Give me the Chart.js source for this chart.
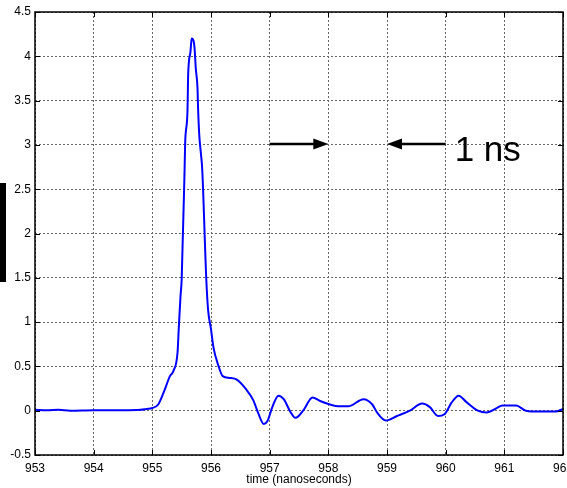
<!DOCTYPE html>
<html>
<head>
<meta charset="utf-8">
<script src="https://cdn.jsdelivr.net/npm/chart.js@4.4.1/dist/chart.umd.min.js"></script>
<style>
  html,body{margin:0;padding:0;background:#fff;}
  #wrap{width:567px;height:488px;position:relative;}
</style>
</head>
<body>
<div id="wrap"><canvas id="pulse"></canvas></div>
<script>
// time axis in nanoseconds, signal in volts
const times = [953.0, 953.2, 953.4, 953.6, 954.0, 954.5, 954.8, 954.9, 955.0, 955.1, 955.19, 955.3, 955.36, 955.43, 955.45, 955.48, 955.5,
  955.55, 955.56, 955.6, 955.61, 955.65, 955.67, 955.7, 955.72, 955.74, 955.77, 955.78, 955.8, 955.83, 955.85, 955.92, 955.95,
  956.0, 956.04, 956.13, 956.2, 956.32, 956.44, 956.6, 956.72, 956.8, 956.9, 956.96, 957.05, 957.15, 957.24, 957.36, 957.44,
  957.58, 957.73, 957.86, 958.03, 958.17, 958.34, 958.6, 958.75, 958.83, 958.98, 959.17, 959.39, 959.6, 959.73, 959.87, 959.98,
  960.1, 960.22, 960.35, 960.55, 960.7, 960.87, 960.97, 961.2, 961.37, 961.6, 961.88, 962.0];
const volts = [0.01, 0.005, 0.01, 0.0, 0.005, 0.005, 0.01, 0.02, 0.03, 0.07, 0.2, 0.39, 0.45, 0.66, 0.92, 1.29, 1.48,
  2.73, 3.03, 3.4, 3.78, 4.05, 4.2, 4.18, 4.09, 3.87, 3.64, 3.41, 3.11, 2.89, 2.73, 1.48, 1.14,
  0.92, 0.72, 0.5, 0.39, 0.37, 0.35, 0.24, 0.12, -0.02, -0.15, -0.12, 0.05, 0.17, 0.13, -0.02, -0.08,
  0.01, 0.15, 0.11, 0.07, 0.05, 0.05, 0.13, 0.07, -0.02, -0.11, -0.06, 0.0, 0.08, 0.04, -0.06, -0.04,
  0.09, 0.17, 0.1, 0.0, -0.02, 0.03, 0.06, 0.06, 0.0, -0.01, -0.01, 0.02];

const xTicks = [953, 954, 955, 956, 957, 958, 959, 960, 961, 962];
const yTicks = [-0.5, 0, 0.5, 1, 1.5, 2, 2.5, 3, 3.5, 4, 4.5];

// annotation: two arrows marking one nanosecond
const arrowRight = {from: 957, to: 958, y: 3};
const arrowLeft = {from: 960, to: 959, y: 3};
const noteText = "1 ns";

const FONT = "'Liberation Sans', Arial, sans-serif";

const frame = {
  id: "frame",
  afterDraw(chart){
    const {ctx, chartArea: a, scales: {x, y}} = chart;
    ctx.save();
    // box
    ctx.strokeStyle = "#000";
    ctx.lineWidth = 1.5;
    ctx.strokeRect(a.left, a.top, a.right - a.left, a.bottom - a.top);
    // inward ticks
    ctx.lineWidth = 1;
    const len = 5;
    xTicks.forEach(v => {
      const px = Math.round(x.getPixelForValue(v)) + 0.5;
      ctx.beginPath();
      ctx.moveTo(px, a.bottom); ctx.lineTo(px, a.bottom - len);
      ctx.moveTo(px, a.top); ctx.lineTo(px, a.top + len);
      ctx.stroke();
    });
    yTicks.forEach(v => {
      const py = Math.round(y.getPixelForValue(v)) + 0.5;
      ctx.beginPath();
      ctx.moveTo(a.left, py); ctx.lineTo(a.left + len, py);
      ctx.moveTo(a.right, py); ctx.lineTo(a.right - len, py);
      ctx.stroke();
    });

    // arrows
    const drawArrow = (arr) => {
      const x0 = x.getPixelForValue(arr.from), x1 = x.getPixelForValue(arr.to);
      const py = y.getPixelForValue(arr.y) - 1;
      const dir = Math.sign(x1 - x0);
      ctx.lineWidth = 2.5;
      ctx.beginPath();
      ctx.moveTo(x0, py); ctx.lineTo(x1 - dir * 12, py);
      ctx.stroke();
      ctx.beginPath();
      ctx.moveTo(x1, py);
      ctx.lineTo(x1 - dir * 15, py - 5.5);
      ctx.lineTo(x1 - dir * 15, py + 5.5);
      ctx.closePath();
      ctx.fillStyle = "#000";
      ctx.fill();
    };
    drawArrow(arrowRight);
    drawArrow(arrowLeft);

    ctx.fillStyle = "#000";
    ctx.font = "35px " + FONT;
    ctx.textAlign = "left";
    ctx.textBaseline = "alphabetic";
    ctx.fillText(noteText, x.getPixelForValue(arrowLeft.from) + 9, y.getPixelForValue(arrowLeft.y) + 16);

    // clipped y-axis label block at the left edge
    ctx.fillRect(0, 183, 6, 99);
    ctx.restore();
  }
};

const gridStyle = {
  color: "#666",
  lineWidth: 1,
  drawTicks: false
};

new Chart(document.getElementById("pulse"), {
  type: "line",
  data: {
    datasets: [{
      data: times.map((t, i) => ({x: t, y: volts[i]})),
      borderColor: "#0000ff",
      borderWidth: 2,
      pointRadius: 0,
      cubicInterpolationMode: "monotone",
      fill: false
    }]
  },
  options: {
    responsive: true,
    maintainAspectRatio: false,
    animation: false,
    layout: {padding: {top: 12, right: 4, left: 0, bottom: 0}},
    plugins: {legend: {display: false}, tooltip: {enabled: false}},
    scales: {
      x: {
        type: "linear",
        min: 953, max: 962,
        afterBuildTicks: s => { s.ticks = xTicks.map(v => ({value: v})); },
        afterFit: s => { s.height = 33; s.paddingLeft = 0; s.paddingRight = 0; },
        grid: gridStyle,
        border: {display: false, dash: [2, 2]},
        ticks: {color: "#000", font: {family: FONT, size: 12}, padding: 6, maxRotation: 0, autoSkip: false,
          callback: v => String(v)},
        title: {display: true, text: "time (nanoseconds)", color: "#000", font: {family: FONT, size: 12}, padding: {top: 0, bottom: 1}}
      },
      y: {
        min: -0.5, max: 4.5,
        afterBuildTicks: s => { s.ticks = yTicks.map(v => ({value: v})); },
        afterFit: s => { s.width = 35; s.paddingTop = 0; s.paddingBottom = 0; },
        grid: gridStyle,
        border: {display: false, dash: [2, 2]},
        ticks: {color: "#000", font: {family: FONT, size: 12}, padding: 4, callback: v => String(v)}
      }
    }
  },
  plugins: [frame]
});
</script>
</body>
</html>
